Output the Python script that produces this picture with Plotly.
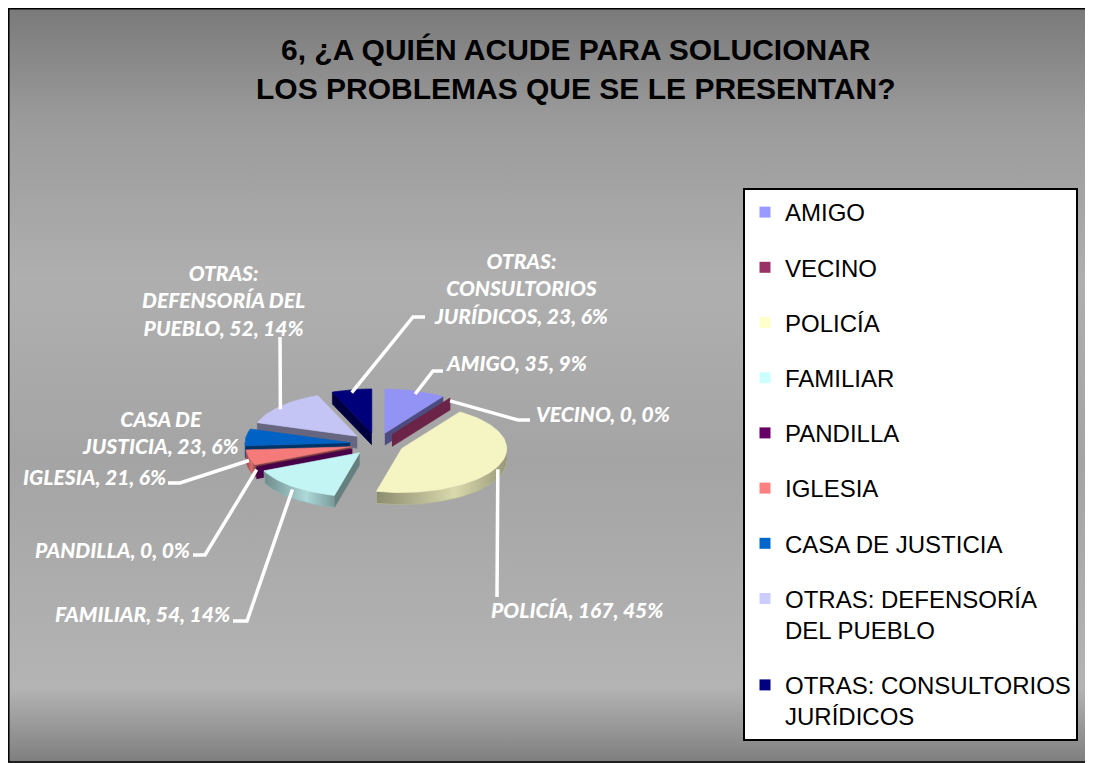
import base64
import textwrap
import numpy as np
import plotly.graph_objects as go

# ---------------- data ----------------
categories = ["AMIGO", "VECINO", "POLICÍA", "FAMILIAR", "PANDILLA", "IGLESIA",
              "CASA DE JUSTICIA", "OTRAS: DEFENSORÍA DEL PUEBLO",
              "OTRAS: CONSULTORIOS JURÍDICOS"]
values = [35, 0, 167, 54, 0, 21, 23, 52, 23]
colors = ["#9999FF", "#993366", "#FFFFCC", "#CCFFFF", "#660066", "#FF8080",
          "#0066CC", "#CCCCFF", "#000080"]
title_text = "6, ¿A QUIÉN ACUDE PARA SOLUCIONAR<br>LOS PROBLEMAS QUE SE LE PRESENTAN?"

# ---------------- layout / style config ----------------
# The page has an 8px body margin, so the figure is placed at (8, 8) in the window.
OFF = 8
W, H = 1093 - OFF, 763 - OFF
X0, X1 = OFF, 1093          # axis ranges == window pixel coordinates
Y0, Y1 = OFF, 763

CX, CY = 377, 444          # pie centre (window px)
RX, RY = 105, 44           # ellipse radii of the tilted pie
DEPTH = 12                 # thickness of the 3-D pie
EXPLODE = 27               # explode distance

label_wrap = {"CASA DE JUSTICIA": 16, "OTRAS: DEFENSORÍA DEL PUEBLO": 15,
              "OTRAS: CONSULTORIOS JURÍDICOS": 17}
legend_wrap = 19
label_pos = {
    "AMIGO": dict(x=445, y=362, xanchor="left", path=[(433, 371), (443, 371)]),
    "VECINO": dict(x=535, y=413, xanchor="left", path=[(518, 420), (530, 420)]),
    "POLICÍA": dict(x=490, y=609, xanchor="left", path=[(497, 597)]),
    "FAMILIAR": dict(x=231, y=613, xanchor="right", path=[(247, 621), (233, 621)]),
    "PANDILLA": dict(x=191, y=549, xanchor="right", path=[(205, 555), (193, 555)]),
    "IGLESIA": dict(x=167, y=476, xanchor="right", path=[(180, 483), (168, 483)]),
    "CASA DE JUSTICIA": dict(x=160, y=432, xanchor="center", path=None),
    "OTRAS: DEFENSORÍA DEL PUEBLO": dict(x=223, y=300, xanchor="center", path=[(280, 337)]),
    "OTRAS: CONSULTORIOS JURÍDICOS": dict(x=521, y=288, xanchor="center",
                                          path=[(413, 317), (425, 317)]),
}


def px(x):
    return (x - X0) / (X1 - X0)


def py(y):
    return 1 - (y - Y0) / (Y1 - Y0)


def shade(hexc, f):
    h = hexc.lstrip("#")
    r, g, b = (int(h[i:i + 2], 16) for i in (0, 2, 4))
    return "#%02x%02x%02x" % tuple(max(0, min(255, int(round(c * f)))) for c in (r, g, b))


# ---------------- geometry from the values ----------------
vals = np.array(values, dtype=float)
total = vals.sum()
frac = vals / total
start = np.concatenate([[0.0], np.cumsum(frac)[:-1]]) * 360.0
end = start + frac * 360.0
mid = (start + end) / 2.0
k = RY / RX


def apex_of(i):
    t = np.radians(mid[i])
    return np.array([CX + EXPLODE * np.sin(t), CY - EXPLODE * k * np.cos(t)])


def rim(a, theta_deg):
    t = np.radians(theta_deg)
    return np.array([a[0] + RX * np.sin(t), a[1] - RY * np.cos(t)])


fig = go.Figure()

# legend entries (in category order)
for cat, col in zip(categories, colors):
    name = "<br>".join(textwrap.wrap(cat, legend_wrap))
    fig.add_trace(go.Scatter(x=[None], y=[None], mode="markers", name=name,
                             legendgroup=cat,
                             marker=dict(symbol="square", size=11, color=col),
                             showlegend=True))


def poly(xs, ys, col, cat, grad=None):
    kw = dict(x=list(xs), y=list(ys), mode="lines", fill="toself",
              fillcolor=col, line=dict(width=0.6, color=col),
              hoverinfo="skip", showlegend=False, legendgroup=cat)
    if grad is not None:
        kw["fillgradient"] = dict(type="horizontal", colorscale=grad)
    fig.add_trace(go.Scatter(**kw))


order = sorted(range(len(categories)), key=lambda i: apex_of(i)[1])
for i in order:
    cat, col = categories[i], colors[i]
    a = apex_of(i)
    top_col = shade(col, 0.96)
    face_col = shade(col, 0.5)
    if values[i] == 0:
        p = rim(a, start[i])
        poly([a[0], p[0], p[0], a[0]], [a[1], p[1], p[1] + DEPTH, a[1] + DEPTH],
             shade(col, 0.7), cat)
        continue
    m = rim(a, mid[i]) - a
    # radial cut faces
    for th in (start[i], end[i]):
        p = rim(a, th)
        e = p - a
        cr = e[0] * m[1] - e[1] * m[0]
        if e[0] * cr < -1e-6:
            poly([a[0], p[0], p[0], a[0]], [a[1], p[1], p[1] + DEPTH, a[1] + DEPTH],
                 face_col, cat)
    # outer curved side (front half only)
    lo, hi = max(start[i], 90.0), min(end[i], 270.0)
    if hi > lo:
        ts = np.linspace(lo, hi, 60)
        pts = np.array([rim(a, t) for t in ts])
        xs = np.concatenate([pts[:, 0], pts[::-1, 0]])
        ys = np.concatenate([pts[:, 1], pts[::-1, 1] + DEPTH])
        grad = [[0, shade(col, 0.55)], [0.6, shade(col, 0.85)], [1, shade(col, 0.6)]]
        poly(xs, ys, shade(col, 0.72), cat, grad)
    # top face
    ts = np.linspace(start[i], end[i], max(8, int((end[i] - start[i]) / 2)))
    pts = np.array([rim(a, t) for t in ts])
    poly(np.concatenate([[a[0]], pts[:, 0], [a[0]]]),
         np.concatenate([[a[1]], pts[:, 1], [a[1]]]), top_col, cat)

# leader lines + data labels
annotations = []
for i, cat in enumerate(categories):
    pos = label_pos[cat]
    if pos["path"]:
        s = rim(apex_of(i), mid[i]) + np.array([0, 3])
        xs = [s[0]] + [q[0] for q in pos["path"]]
        ys = [s[1]] + [q[1] for q in pos["path"]]
        fig.add_trace(go.Scatter(x=xs, y=ys, mode="lines",
                                 line=dict(color="white", width=3.5),
                                 hoverinfo="skip", showlegend=False, legendgroup=cat))
    pct = int(round(values[i] / total * 100))
    txt = f"{cat}, {values[i]}, {pct}%"
    if cat in label_wrap:
        txt = "<br>".join(textwrap.wrap(txt, label_wrap[cat]))
    annotations.append(dict(x=pos["x"], y=pos["y"], xref="x", yref="y",
                            text=txt, showarrow=False, xanchor=pos["xanchor"],
                            yanchor="middle", align="center", borderpad=0,
                            font=dict(family="Lato, Open Sans, sans-serif", size=21,
                                      color="white", weight=900, style="italic")))

# chart title
annotations.append(dict(x=576, y=69, xref="x", yref="y", text=title_text,
                        showarrow=False, xanchor="center", yanchor="middle",
                        align="center",
                        font=dict(family="Liberation Sans, Arial, sans-serif",
                                  size=30, color="black", weight="bold")))

# background gradient (chart area)
svg = ('<svg xmlns="http://www.w3.org/2000/svg" width="1083" height="756" '
       'preserveAspectRatio="none"><defs><linearGradient id="g" x1="0" y1="0" x2="0" y2="1">'
       '<stop offset="0" stop-color="#7a7a7a"/>'
       '<stop offset="0.15" stop-color="#9b9b9b"/>'
       '<stop offset="0.36" stop-color="#afafaf"/>'
       '<stop offset="0.6" stop-color="#a4a4a4"/>'
       '<stop offset="0.9" stop-color="#b4b4b4"/>'
       '<stop offset="1" stop-color="#7e7e7e"/>'
       '</linearGradient></defs><rect width="1083" height="756" fill="url(#g)"/></svg>')
src = "data:image/svg+xml;base64," + base64.b64encode(svg.encode()).decode()

fig.update_layout(
    width=W, height=H,
    margin=dict(l=0, r=0, t=0, b=0),
    paper_bgcolor="white", plot_bgcolor="rgba(0,0,0,0)",
    xaxis=dict(range=[X0, X1], visible=False, fixedrange=True),
    yaxis=dict(range=[Y1, Y0], visible=False, fixedrange=True),
    images=[dict(source=src, xref="paper", yref="paper", x=0, y=1,
                 sizex=px(1089), sizey=1, xanchor="left", yanchor="top",
                 sizing="stretch", layer="below")],
    shapes=[dict(type="rect", xref="paper", yref="paper", x0=px(8.8), x1=px(1089),
                 y0=py(762), y1=py(8.8), line=dict(color="black", width=1.5),
                 fillcolor="rgba(0,0,0,0)")],
    legend=dict(x=px(743), y=py(188), xanchor="left", yanchor="top",
                bgcolor="white", bordercolor="black", borderwidth=2,
                font=dict(family="Liberation Sans, Arial, sans-serif", size=24, color="black"),
                tracegroupgap=21, valign="top", itemsizing="trace"),
    annotations=annotations,
    showlegend=True,
)

fig.write_html("out.html")
